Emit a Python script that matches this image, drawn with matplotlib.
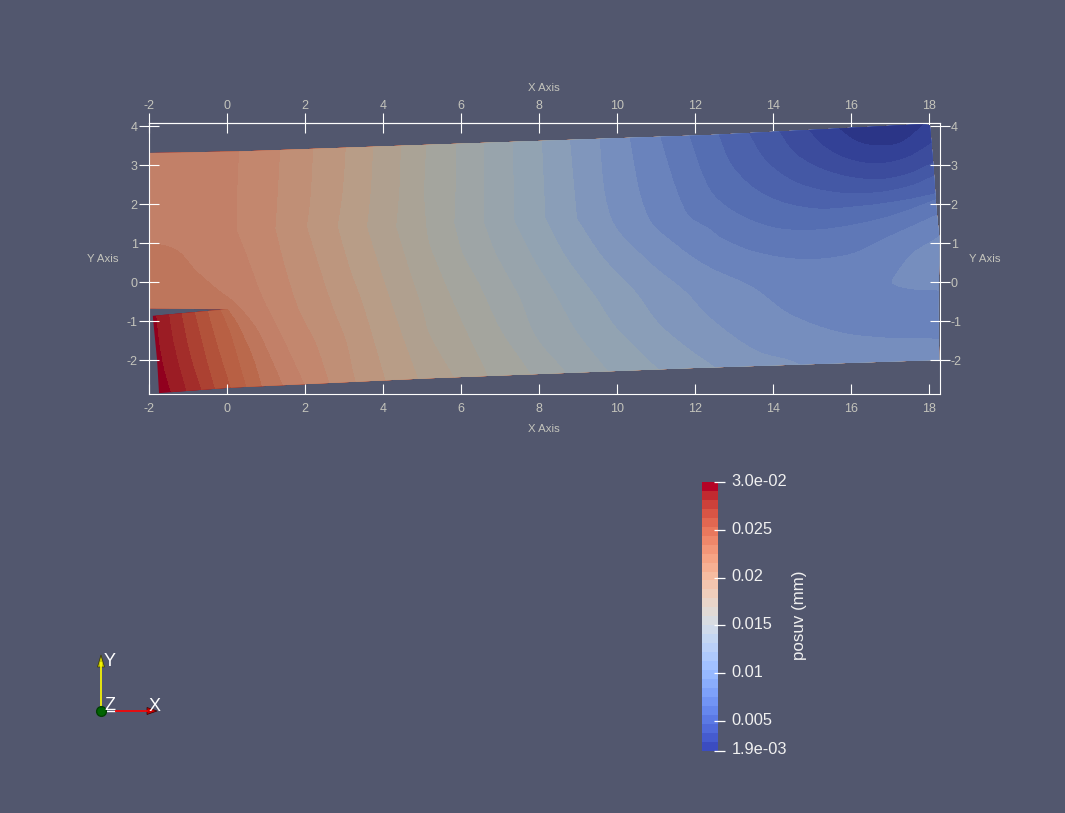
import numpy as np
import matplotlib
matplotlib.use("Agg")
import matplotlib.pyplot as plt
from matplotlib.patches import Polygon, PathPatch
from matplotlib.path import Path

plt.rcParams['font.family'] = ['Liberation Sans', 'DejaVu Sans']
plt.rcParams['axes.unicode_minus'] = False

BG = '#52576e'
W, H = 1065, 813

# outline of the part, crack included
body_outline = [(-2.01, 3.31), (0.33, 3.35), (5.16, 3.52), (12.39, 3.77), (17.86, 4.05),
                (18.03, 4.02), (18.05, 3.82), (18.12, 3.0), (18.2, 1.85), (18.27, 1.17),
                (18.27, 0.49), (18.25, -0.67), (18.27, -1.99), (11.87, -2.2), (5.16, -2.46),
                (0.07, -2.7), (-1.75, -2.84), (-1.80, -1.99), (-1.88, -1.18), (-1.91, -0.86),
                (0.04, -0.69), (-2.01, -0.68)]

# iso lines of posuv, from the crack tip side to the far end
iso_lines = [
    [(-1.82, -0.71), (-1.73, -1.56), (-1.60, -2.24), (-1.37, -3.01)],
    [(-1.49, -0.71), (-1.39, -1.39), (-1.21, -2.16), (-0.96, -3.01)],
    [(-1.17, -0.71), (-1.04, -1.39), (-0.87, -2.07), (-0.56, -3.01)],
    [(-0.83, -0.71), (-0.66, -1.39), (-0.49, -2.07), (-0.21, -3.01)],
    [(-0.49, -0.71), (-0.32, -1.31), (-0.12, -1.99), (0.21, -3.01)],
    [(-0.17, -0.67), (0.07, -1.22), (0.28, -1.90), (0.60, -3.01)],
    [(-2.1, -0.68), (0.03, -0.68), (0.28, -1.05), (0.67, -1.90), (0.91, -2.67), (1.01, -3.01)],
    [(-2.24, 1.02), (-1.64, 0.97), (-1.21, 0.79), (-0.79, 0.32), (-0.19, -0.20), (0.15, -0.45),
     (0.33, -0.62), (0.75, -1.14), (1.09, -1.82), (1.44, -2.63), (1.59, -3.01)],
    [(0.33, 3.56), (0.26, 2.11), (0.26, 1.34), (0.50, 0.74), (0.92, -0.37), (1.35, -1.22),
     (1.99, -2.59), (2.16, -3.01)],
    [(1.38, 3.56), (1.31, 2.28), (1.25, 1.38), (1.52, 0.32), (1.86, -0.71), (2.29, -1.56),
     (2.63, -2.54), (2.81, -3.01)],
    [(2.22, 3.56), (2.16, 2.28), (2.06, 1.43), (2.38, 0.40), (2.72, -0.62), (3.06, -1.48),
     (3.30, -2.50), (3.49, -3.01)],
    [(3.06, 3.56), (2.98, 2.36), (2.85, 1.43), (3.15, 0.40), (3.49, -0.54), (3.75, -1.39),
     (4.07, -2.48), (4.26, -3.01)],
    [(3.76, 3.56), (3.70, 2.36), (3.60, 1.43), (3.92, 0.40), (4.26, -0.62), (4.52, -1.39),
     (4.90, -2.42), (5.12, -3.01)],
    [(4.47, 3.56), (4.43, 2.36), (4.35, 1.43), (4.69, 0.32), (5.03, -0.71), (5.20, -1.31),
     (5.84, -2.44), (6.14, -3.01)],
    [(5.12, 3.56), (5.07, 2.28), (5.12, 1.43), (5.20, 1.0), (5.54, 0.14), (6.06, -1.05),
     (6.70, -2.38), (6.95, -3.01)],
    [(5.89, 3.73), (5.87, 2.28), (5.84, 1.51), (6.06, 0.74), (6.48, -0.03), (7.04, -1.22),
     (7.81, -2.35), (8.20, -3.01)],
    [(6.61, 3.73), (6.61, 1.51), (6.91, 0.74), (7.51, -0.37), (7.94, -1.39), (8.71, -2.30),
     (9.26, -3.01)],
    [(7.34, 3.77), (7.38, 1.60), (7.85, 0.66), (8.45, -0.32), (8.96, -1.22), (9.79, -2.27),
     (10.42, -3.01)],
    [(8.08, 3.82), (8.18, 1.64), (8.71, 0.66), (9.44, -0.32), (9.99, -1.14), (11.09, -2.23),
     (11.87, -3.01)],
    [(8.79, 3.86), (8.99, 1.64), (9.65, 0.66), (10.50, -0.24), (11.10, -1.05), (11.87, -1.70),
     (12.51, -2.16), (13.33, -3.01)],
    [(9.54, 3.90), (9.86, 1.68), (10.76, 0.61), (11.79, -0.24), (12.39, -0.88), (13.58, -1.73),
     (14.70, -2.09), (15.72, -3.01)],
    [(10.29, 3.94), (10.80, 1.72), (11.62, 0.91), (12.39, 0.40), (13.50, -0.11), (14.44, -0.79),
     (15.72, -1.26), (17.00, -1.41), (18.27, -1.43), (18.6, -1.44)],
    [(11.04, 3.99), (11.79, 1.81), (12.39, 1.38), (12.73, 1.13), (13.58, 0.79), (14.78, 0.61),
     (15.98, 0.74), (16.92, 1.17), (18.25, 1.77), (18.6, 1.94)],
    [(11.79, 3.99), (12.39, 2.41), (12.99, 1.85), (13.99, 1.43), (15.04, 1.36), (16.15, 1.51),
     (17.18, 1.77), (18.2, 2.15), (18.6, 2.3)],
    [(12.56, 3.94), (13.0, 2.96), (13.84, 2.24), (15.04, 1.91), (16.32, 1.98), (17.35, 2.12),
     (18.19, 2.30), (18.6, 2.42)],
    [(13.33, 3.94), (13.84, 3.13), (14.61, 2.58), (15.64, 2.32), (16.67, 2.32), (17.52, 2.49),
     (18.14, 2.75), (18.6, 2.95)],
    [(14.10, 3.99), (14.61, 3.30), (15.47, 2.85), (16.58, 2.65), (17.44, 2.79), (18.12, 3.09),
     (18.6, 3.3)],
    [(14.83, 4.03), (15.30, 3.52), (15.90, 3.19), (16.67, 3.06), (17.44, 3.22), (18.08, 3.60),
     (18.6, 3.95)],
    [(15.60, 4.03), (16.15, 3.64), (16.67, 3.52), (17.27, 3.60), (17.86, 4.07), (18.0, 4.3)],
]

# band colours: first is the base fill, then one per iso line
band_colors = [(145, 0, 30), (155, 28, 36), (163, 45, 42), (172, 65, 50), (178, 82, 58),
               (184, 96, 68), (186, 105, 76), (190, 118, 92), (194, 128, 104), (195, 135, 110),
               (192, 143, 118), (189, 150, 126), (184, 157, 135), (176, 160, 143), (170, 163, 150),
               (164, 165, 158), (158, 165, 166), (152, 164, 172), (146, 163, 178), (138, 158, 184),
               (128, 150, 188), (118, 142, 190), (106, 131, 188), (95, 120, 183), (85, 110, 178),
               (76, 98, 172), (68, 88, 165), (60, 76, 157), (51, 65, 150), (43, 53, 135)]

# small lighter island at the right edge
island = [(18.6, 1.5), (18.27, 1.17), (17.6, 0.74), (17.13, 0.15), (17.09, -0.03),
          (17.6, -0.17), (18.27, -0.2), (18.6, -0.2)]
island_color = (118, 142, 190)

x_ticks = list(range(-2, 20, 2))
y_ticks = list(range(-2, 5))

cbar_min, cbar_max = 1.9e-3, 3.0e-2
cbar_bands = 30
cbar_ticks = [3.0e-2, 0.025, 0.02, 0.015, 0.01, 0.005, 1.9e-3]
cbar_labels = ['3.0e-02', '0.025', '0.02', '0.015', '0.01', '0.005', '1.9e-03']


def rgb(c):
    return tuple(v / 255 for v in c)


def is_corner(p):
    # the iso lines really do break here, do not round them
    if p == (0.03, -0.68):
        return True
    return p[0] < 9.2 and 1.25 < p[1] < 1.7


def curve_path(pts, tail):
    # bezier through the read points, then straight through the tail points
    pts = np.array(pts, dtype=float)
    n = len(pts)
    verts = [pts[0]]
    codes = [Path.MOVETO]
    for i in range(n - 1):
        seg = pts[i + 1] - pts[i]
        ln = np.hypot(*seg)
        t0 = seg / ln
        t1 = seg / ln
        if i > 0 and not is_corner(tuple(pts[i])):
            t0 = pts[i + 1] - pts[i - 1]
            t0 = t0 / np.hypot(*t0)
        if i < n - 2 and not is_corner(tuple(pts[i + 1])):
            t1 = pts[i + 2] - pts[i]
            t1 = t1 / np.hypot(*t1)
        verts += [pts[i] + t0 * ln / 3, pts[i + 1] - t1 * ln / 3, pts[i + 1]]
        codes += [Path.CURVE4] * 3
    for p in tail:
        verts.append(p)
        codes.append(Path.LINETO)
    verts.append(verts[0])
    codes.append(Path.CLOSEPOLY)
    return Path(np.array(verts), codes)


fig = plt.figure(figsize=(W / 100, H / 100), dpi=100, facecolor=BG)

# main view
ax = fig.add_axes([148.5 / W, 1 - 394.3 / H, (940 - 148.5) / W, (394.3 - 123.3) / H])
ax.set_facecolor(BG)
ax.set_xlim(-2.02, 18.29)
ax.set_ylim(-2.87, 4.07)

body = Polygon(body_outline, closed=True, facecolor='none', edgecolor='none', zorder=0)
ax.add_patch(body)

base = Polygon([(-3, -4), (19, -4), (19, 5), (-3, 5)], closed=True, facecolor=rgb(band_colors[0]),
               edgecolor='none', antialiased=False, zorder=1)
ax.add_patch(base)
base.set_clip_path(body)

for line, col in zip(iso_lines, band_colors[1:]):
    # everything on the far side of the line, overpainted by the next one
    tail = [(19.0, line[-1][1]), (19.0, 4.4), (line[0][0], 4.4)]
    band = PathPatch(curve_path(line, tail), facecolor=rgb(col), edgecolor='none',
                     antialiased=False, zorder=1)
    ax.add_patch(band)
    band.set_clip_path(body)

isl = PathPatch(curve_path(island, []), facecolor=rgb(island_color), edgecolor='none',
                antialiased=False, zorder=1)
ax.add_patch(isl)
isl.set_clip_path(body)

for s in ax.spines.values():
    s.set_color('white')
    s.set_linewidth(0.8)
ax.set_axisbelow(False)

label_col = '#c4c4bc'
ax.set_xticks(x_ticks)
ax.set_xticklabels([str(v) for v in x_ticks])
ax.tick_params(axis='x', direction='in', length=7.0, width=0.8, color='white',
               labelcolor=label_col, labelsize=9, pad=6)
ax.set_yticks(y_ticks)
ax.set_yticklabels([str(v) for v in y_ticks])
ax.tick_params(axis='y', direction='inout', length=14.4, width=0.8, color='white',
               labelcolor=label_col, labelsize=9, pad=0.5, left=True, right=True, labelright=True)

top = ax.secondary_xaxis('top')
top.set_xticks(x_ticks)
top.set_xticklabels([str(v) for v in x_ticks])
top.tick_params(direction='inout', length=14.4, width=0.8, color='white',
                labelcolor=label_col, labelsize=9, pad=1)
top.spines['top'].set_color('white')
top.spines['top'].set_linewidth(0.8)

# colour bar
cax = fig.add_axes([702 / W, 1 - 750.5 / H, 16 / W, 268.5 / H])
edges = np.linspace(cbar_min, cbar_max, cbar_bands + 1)
vals = ((edges[:-1] + edges[1:]) / 2).reshape(-1, 1)
cax.pcolormesh([0, 1], edges, vals, cmap=plt.get_cmap('coolwarm', cbar_bands),
               vmin=cbar_min, vmax=cbar_max, antialiased=False)
cax.set_xticks([])
cax.set_yticks([])
cax.set_ylim(cbar_min, cbar_max)
for s in cax.spines.values():
    s.set_visible(False)
cax.hlines(cbar_ticks, 0.75, 1.44, color='white', linewidth=0.9,
           transform=cax.get_yaxis_transform(), clip_on=False)
for val, lab in zip(cbar_ticks, cbar_labels):
    cax.annotate(lab, (1, val), xycoords=cax.get_yaxis_transform(), xytext=(9.7, 0.4),
                 textcoords='offset points', color='#f0f0f0', fontsize=11.8,
                 ha='left', va='center', annotation_clip=False)

# overlay in screen pixels for the titles and the orientation widget
ui = fig.add_axes([0, 0, 1, 1])
ui.set_xlim(0, W)
ui.set_ylim(H, 0)
ui.axis('off')

ui.text(543.5, 88, 'X Axis', color=label_col, fontsize=8.2, ha='center', va='center')
ui.text(543.5, 429, 'X Axis', color=label_col, fontsize=8.2, ha='center', va='center')
ui.text(102.5, 259, 'Y Axis', color=label_col, fontsize=8.2, ha='center', va='center')
ui.text(984.5, 259, 'Y Axis', color=label_col, fontsize=8.2, ha='center', va='center')
ui.text(799.5, 615, 'posuv (mm)', color='#f0f0f0', fontsize=12.2, rotation=90,
        ha='center', va='center')

ui.plot([101, 101], [711, 662], color='#ffff00', lw=1.2, solid_capstyle='butt')
ui.plot([101, 115], [711, 711], color='white', lw=1.0, solid_capstyle='butt')
ui.plot([115, 148], [711, 711], color='#ff0000', lw=1.2, solid_capstyle='butt')
ui.add_patch(Polygon([(97.5, 667), (104.5, 667), (101, 655)], closed=True,
                     facecolor='#c8c800', edgecolor='#333300', lw=0.5))
ui.add_patch(Polygon([(147, 707.5), (147, 714.5), (157, 711)], closed=True,
                     facecolor='#cc0000', edgecolor='#330000', lw=0.5))
ui.plot([101], [711], 'o', color='#006400', markersize=7, markeredgecolor='#004000')
ui.text(109.5, 661.5, 'Y', color='white', fontsize=13, ha='center', va='center')
ui.text(110, 705.5, 'Z', color='white', fontsize=13, ha='center', va='center')
ui.text(154.5, 706.5, 'X', color='white', fontsize=13, ha='center', va='center')

fig.savefig('out.png', dpi=100, facecolor=BG)
